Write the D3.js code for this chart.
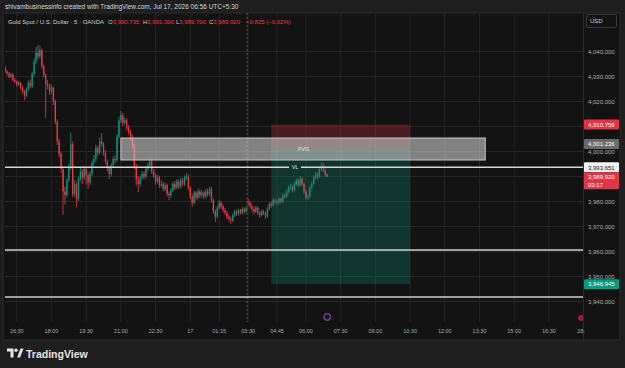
<!DOCTYPE html>
<html>
<head>
<meta charset="utf-8">
<script src="https://cdn.jsdelivr.net/npm/d3@7"></script>
<style>
  html, body { margin: 0; padding: 0; background: #1e1e1e; }
  svg { display: block; font-family: "Liberation Sans", Arial, sans-serif; }
</style>
</head>
<body>
<svg id="chart" width="625" height="368"></svg>
<script>
// XAUUSD 5m, Jul 16 16:00 -> Jul 17 06:55 (market closed 02:30-03:25)
const opens = [
  4033.5, 4032.0, 4031.2, 4030.0, 4030.8, 4028.6, 4028.0, 4026.8, 4027.4, 4025.6,
  4024.0, 4022.4, 4024.8, 4027.5, 4026.0, 4031.0, 4036.0, 4039.5, 4038.0, 4040.5,
  4034.0, 4030.5, 4027.0, 4026.5, 4024.0, 4025.5, 4020.0, 4012.0, 4004.0, 3999.0,
  3993.0, 3984.0, 3982.5, 3988.5, 3993.5, 4003.0, 3983.0, 3987.0, 3981.0, 3989.0,
  3992.0, 3989.5, 3993.0, 3990.5, 3987.5, 3991.0, 3995.5, 3997.0, 4001.5, 3999.5,
  4004.0, 4003.0, 3999.5, 3996.0, 3993.5, 3991.0, 3994.5, 3997.0, 3996.5, 4006.0,
  4012.5, 4014.5, 4011.5, 4012.5, 4009.5, 4008.0, 4006.0, 4002.5, 3994.0, 3988.5,
  3987.0, 3989.5, 3991.0, 3990.0, 3993.0, 3994.5, 3996.0, 3992.0, 3990.5, 3988.0,
  3989.5, 3986.5, 3987.0, 3985.0, 3986.5, 3983.0, 3982.5, 3984.5, 3987.0, 3985.5,
  3988.0, 3986.0, 3988.5, 3987.0, 3989.5, 3990.0, 3985.5, 3982.0, 3979.5, 3983.5,
  3981.5, 3984.0, 3982.5, 3983.5, 3982.0, 3984.0, 3983.0, 3985.0, 3980.5, 3976.0,
  3974.0, 3977.5, 3979.5, 3978.0, 3976.5, 3975.5, 3974.0, 3973.0, 3972.5, 3974.5,
  3976.0, 3975.0, 3976.5, 3975.5, 3977.0, 3976.0, 3980.0, 3979.5, 3978.0, 3977.0,
  3976.0, 3977.5, 3975.5, 3974.5, 3976.0, 3975.5, 3974.0, 3977.0, 3979.0, 3978.5,
  3980.5, 3980.0, 3979.5, 3981.0, 3980.0, 3982.5, 3982.0, 3984.0, 3985.5, 3986.0,
  3984.5, 3987.0, 3988.5, 3986.5, 3989.0, 3987.0, 3984.0, 3981.5, 3982.0, 3985.5,
  3987.0, 3989.5, 3991.0, 3990.0, 3993.0, 3994.0, 3992.5, 3990.735
];
const highs = [
  4034.2, 4032.6, 4031.8, 4031.5, 4031.2, 4029.4, 4028.5, 4028.3, 4027.9, 4026.3,
  4024.6, 4025.6, 4028.4, 4028.8, 4031.9, 4037.2, 4041.8, 4042.6, 4042.4, 4041.2,
  4034.8, 4031.4, 4028.6, 4027.2, 4026.8, 4026.0, 4020.8, 4012.8, 4005.2, 3999.8,
  3993.6, 3986.0, 3989.4, 3995.0, 4007.6, 4004.0, 3988.6, 3987.8, 3990.0, 3993.4,
  3993.0, 3994.2, 3993.8, 3991.4, 3992.2, 3996.4, 3998.6, 4002.8, 4002.4, 4005.6,
  4007.4, 4003.8, 4000.6, 3996.8, 3994.2, 3995.4, 3998.0, 3998.4, 4007.0, 4013.8,
  4016.2, 4015.4, 4013.6, 4013.2, 4010.6, 4008.8, 4006.8, 4003.2, 3995.0, 3990.2,
  3990.4, 3992.2, 3992.0, 3994.0, 3995.6, 3997.2, 3996.8, 3993.0, 3991.2, 3990.6,
  3990.2, 3988.4, 3987.8, 3987.6, 3987.2, 3984.0, 3985.4, 3988.0, 3988.2, 3989.0,
  3988.8, 3989.6, 3989.4, 3990.4, 3991.3, 3990.8, 3986.2, 3982.8, 3984.4, 3984.2,
  3985.0, 3984.8, 3984.6, 3984.2, 3985.0, 3985.2, 3986.0, 3985.8, 3981.2, 3976.8,
  3978.4, 3980.6, 3980.2, 3978.8, 3977.4, 3976.2, 3974.8, 3974.0, 3975.2, 3976.8,
  3976.6, 3977.2, 3977.0, 3977.8, 3977.6, 3978.2, 3981.0, 3980.2, 3978.8, 3977.8,
  3978.4, 3978.0, 3976.2, 3976.8, 3976.8, 3976.0, 3977.8, 3979.8, 3980.0, 3981.4,
  3981.2, 3980.8, 3981.8, 3981.6, 3983.2, 3983.4, 3984.8, 3986.4, 3987.2, 3986.6,
  3987.8, 3989.4, 3989.2, 3990.2, 3989.8, 3987.6, 3984.8, 3983.0, 3986.2, 3988.0,
  3990.4, 3992.0, 3991.8, 3993.8, 3995.5, 3995.4, 3993.4, 3991.3
];
const lows = [
  4031.4, 4030.5, 4029.4, 4029.3, 4027.9, 4027.2, 4025.9, 4026.2, 4024.8, 4023.1,
  4020.5, 4021.7, 4024.0, 4025.2, 4025.4, 4030.2, 4035.1, 4036.8, 4037.2, 4033.0,
  4029.6, 4013.5, 4024.8, 4022.6, 4022.9, 4018.6, 4010.9, 4002.6, 3997.8, 3991.5,
  3974.6, 3978.8, 3981.6, 3987.8, 3992.6, 3981.8, 3982.0, 3977.6, 3980.2, 3988.2,
  3987.0, 3988.6, 3986.8, 3985.0, 3986.6, 3990.2, 3994.4, 3996.0, 3998.2, 3998.8,
  4001.8, 3998.4, 3995.0, 3992.0, 3989.0, 3990.0, 3993.6, 3995.2, 3995.8, 4005.2,
  4011.4, 4010.2, 4010.6, 4008.4, 4006.8, 4004.6, 4001.2, 3992.8, 3986.4, 3983.8,
  3985.8, 3988.6, 3988.8, 3989.2, 3992.2, 3993.6, 3991.0, 3989.4, 3986.8, 3987.2,
  3985.4, 3985.6, 3984.0, 3984.2, 3982.0, 3980.5, 3981.6, 3983.8, 3984.6, 3984.8,
  3985.0, 3985.2, 3986.0, 3986.2, 3988.6, 3984.4, 3981.0, 3977.8, 3978.8, 3980.4,
  3980.8, 3981.4, 3981.6, 3981.0, 3981.2, 3982.0, 3982.2, 3979.4, 3975.0, 3971.8,
  3973.2, 3976.8, 3977.0, 3975.6, 3974.6, 3973.0, 3972.0, 3971.0, 3971.8, 3973.8,
  3974.2, 3974.4, 3974.8, 3974.8, 3975.2, 3975.4, 3978.6, 3977.2, 3976.0, 3975.0,
  3975.4, 3974.6, 3973.5, 3974.0, 3974.6, 3973.0, 3973.6, 3976.4, 3977.6, 3978.0,
  3979.0, 3978.4, 3978.8, 3979.2, 3979.4, 3981.0, 3981.4, 3983.2, 3984.6, 3983.6,
  3984.0, 3986.2, 3985.6, 3986.0, 3986.0, 3983.0, 3980.8, 3980.5, 3981.4, 3984.8,
  3986.4, 3988.8, 3989.0, 3989.4, 3992.2, 3991.6, 3989.8, 3989.7
];
const closes = [
  4032.0, 4031.2, 4030.0, 4030.8, 4028.6, 4028.0, 4026.8, 4027.4, 4025.6, 4024.0,
  4022.4, 4024.8, 4027.5, 4026.0, 4031.0, 4036.0, 4039.5, 4038.0, 4040.5, 4034.0,
  4030.5, 4027.0, 4026.5, 4024.0, 4025.5, 4020.0, 4012.0, 4004.0, 3999.0, 3993.0,
  3984.0, 3982.5, 3988.5, 3993.5, 4003.0, 3983.0, 3987.0, 3981.0, 3989.0, 3992.0,
  3989.5, 3993.0, 3990.5, 3987.5, 3991.0, 3995.5, 3997.0, 4001.5, 3999.5, 4004.0,
  4003.0, 3999.5, 3996.0, 3993.5, 3991.0, 3994.5, 3997.0, 3996.5, 4006.0, 4012.5,
  4014.5, 4011.5, 4012.5, 4009.5, 4008.0, 4006.0, 4002.5, 3994.0, 3988.5, 3987.0,
  3989.5, 3991.0, 3990.0, 3993.0, 3994.5, 3996.0, 3992.0, 3990.5, 3988.0, 3989.5,
  3986.5, 3987.0, 3985.0, 3986.5, 3983.0, 3982.5, 3984.5, 3987.0, 3985.5, 3988.0,
  3986.0, 3988.5, 3987.0, 3989.5, 3990.0, 3985.5, 3982.0, 3979.5, 3983.5, 3981.5,
  3984.0, 3982.5, 3983.5, 3982.0, 3984.0, 3983.0, 3985.0, 3980.5, 3976.0, 3974.0,
  3977.5, 3979.5, 3978.0, 3976.5, 3975.5, 3974.0, 3973.0, 3972.5, 3974.5, 3976.0,
  3975.0, 3976.5, 3975.5, 3977.0, 3976.0, 3977.5, 3979.5, 3978.0, 3977.0, 3976.0,
  3977.5, 3975.5, 3974.5, 3976.0, 3975.5, 3974.0, 3977.0, 3979.0, 3978.5, 3980.5,
  3980.0, 3979.5, 3981.0, 3980.0, 3982.5, 3982.0, 3984.0, 3985.5, 3986.0, 3984.5,
  3987.0, 3988.5, 3986.5, 3989.0, 3987.0, 3984.0, 3981.5, 3982.0, 3985.5, 3987.0,
  3989.5, 3991.0, 3990.0, 3993.0, 3994.0, 3992.5, 3990.7, 3989.92
];

// time axis (bar index of each label)
const timeTickLabels = ["16:30", "18:00", "19:30", "21:00", "22:30", "17", "01:15", "03:30", "04:45",
  "06:00", "07:30", "09:00", "10:30", "12:00", "13:30", "15:00", "16:30", "18:"];
const timeTickBars = [6, 24, 42, 60, 78, 96, 111, 126, 141, 156, 174, 192, 210, 228, 246, 264, 282, 300];
const priceTicks = [4040, 4030, 4020, 4010, 4000, 3990, 3980, 3970, 3960, 3950, 3940];

// drawings
const sessionBreakBar = 126;
const fvgBars = [60, 249];
const fvgPrices = [4005.4, 3996.6];
const vlPrice = 3993.651;
const levelPrices = [3960.6, 3941.8];
const positionBars = [138, 210];
const positionStop = 4010.756, positionEntry = 4001.236, positionTarget = 3946.945;
const lastPrice = 3989.92, countdown = "03:17";

const legendTitle = "Gold Spot / U.S. Dollar · 5 · OANDA";
const legendValues = [["O", "3,990.735"], ["H", "3,991.300"], ["L", "3,989.700"], ["C", "3,989.920"]];
const legendChange = "−0.825 (−0.02%)";

const upColor = "#089981", downColor = "#f23645";
const plotL = 5, plotR = 583, plotT = 13, plotB = 322;

const svg = d3.select("#chart");
const x = d3.scaleLinear().domain([0, 299.7]).range([5.2, 583]);
const y = d3.scaleLinear().domain([3940, 4040]).range([301.5, 51.5]);
const fmt = d3.format(",.3f");

// backgrounds
svg.append("rect").attr("width", 625).attr("height", 368).attr("fill", "#1e1e1e");
svg.append("rect").attr("x", 3).attr("y", 13).attr("width", 617).attr("height", 327)
  .attr("fill", "#131313").attr("stroke", "#2a2a2a").attr("stroke-width", 1);

svg.append("defs").append("clipPath").attr("id", "plotClip")
  .append("rect").attr("x", plotL).attr("y", plotT).attr("width", plotR - plotL).attr("height", plotB - plotT);

const plot = svg.append("g").attr("clip-path", "url(#plotClip)");

// grid
plot.selectAll("line.hgrid").data(priceTicks).enter().append("line")
  .attr("x1", plotL).attr("x2", plotR)
  .attr("y1", d => y(d)).attr("y2", d => y(d))
  .attr("stroke", "#262626").attr("stroke-width", 1);
plot.selectAll("line.vgrid").data(timeTickBars).enter().append("line")
  .attr("x1", d => x(d)).attr("x2", d => x(d))
  .attr("y1", plotT).attr("y2", plotB)
  .attr("stroke", "#262626").attr("stroke-width", 1);

// session break
plot.append("line")
  .attr("x1", x(sessionBreakBar) - 1).attr("x2", x(sessionBreakBar) - 1)
  .attr("y1", plotT).attr("y2", plotB)
  .attr("stroke", "#5a5a5a").attr("stroke-width", 1).attr("stroke-dasharray", "2,2");

// candles
const bars = d3.range(closes.length);
const bw = 1.3;
plot.selectAll("line.wick").data(bars).enter().append("line")
  .attr("x1", i => x(i)).attr("x2", i => x(i))
  .attr("y1", i => y(highs[i])).attr("y2", i => y(lows[i]))
  .attr("stroke", i => closes[i] >= opens[i] ? upColor : downColor)
  .attr("stroke-width", 0.8);
plot.selectAll("rect.body").data(bars).enter().append("rect")
  .attr("x", i => x(i) - bw / 2)
  .attr("width", bw)
  .attr("y", i => y(Math.max(opens[i], closes[i])))
  .attr("height", i => Math.max(0.8, Math.abs(y(opens[i]) - y(closes[i]))))
  .attr("fill", i => closes[i] >= opens[i] ? upColor : downColor);

// short position
plot.append("rect")
  .attr("x", x(positionBars[0])).attr("width", x(positionBars[1]) - x(positionBars[0]))
  .attr("y", y(positionStop)).attr("height", y(positionEntry) - y(positionStop))
  .attr("fill", "rgba(242,54,69,0.25)");
plot.append("rect")
  .attr("x", x(positionBars[0])).attr("width", x(positionBars[1]) - x(positionBars[0]))
  .attr("y", y(positionEntry)).attr("height", y(positionTarget) - y(positionEntry))
  .attr("fill", "rgba(8,153,129,0.25)");

// FVG box
plot.append("rect")
  .attr("x", x(fvgBars[0])).attr("width", x(fvgBars[1]) - x(fvgBars[0]))
  .attr("y", y(fvgPrices[0])).attr("height", y(fvgPrices[1]) - y(fvgPrices[0]))
  .attr("fill", "rgba(205,205,205,0.6)").attr("stroke", "#c8c8c8").attr("stroke-width", 1);
plot.append("text")
  .attr("x", (x(fvgBars[0]) + x(fvgBars[1])) / 2 + 0.5)
  .attr("y", (y(fvgPrices[0]) + y(fvgPrices[1])) / 2 + 2)
  .attr("text-anchor", "middle").attr("font-size", 5.5).attr("fill", "#e8e8e8")
  .text("FVG");

// VL line with label gap
const vlX = 295;
plot.append("line").attr("x1", plotL).attr("x2", vlX - 6)
  .attr("y1", y(vlPrice)).attr("y2", y(vlPrice))
  .attr("stroke", "#d6d6d6").attr("stroke-width", 1.5);
plot.append("line").attr("x1", vlX + 6).attr("x2", plotR)
  .attr("y1", y(vlPrice)).attr("y2", y(vlPrice))
  .attr("stroke", "#d6d6d6").attr("stroke-width", 1.5);
plot.append("text").attr("x", vlX).attr("y", y(vlPrice) + 2)
  .attr("text-anchor", "middle").attr("font-size", 5.5).attr("fill", "#e0e0e0").text("VL");

// horizontal levels
plot.selectAll("line.level").data(levelPrices).enter().append("line")
  .attr("x1", plotL).attr("x2", plotR)
  .attr("y1", d => y(d)).attr("y2", d => y(d))
  .attr("stroke", "#cfcfcf").attr("stroke-width", 1.5);

// little markers on the bottom of the plot
plot.append("circle").attr("cx", x(167)).attr("cy", 317).attr("r", 3.2)
  .attr("fill", "none").attr("stroke", "#6d3f8f").attr("stroke-width", 1.4);
plot.append("circle").attr("cx", 581).attr("cy", 318).attr("r", 3)
  .attr("fill", "#8a2438");

// axis separators
svg.append("line").attr("x1", plotR + 0.5).attr("x2", plotR + 0.5).attr("y1", plotT).attr("y2", 340)
  .attr("stroke", "#2a2a2a");

// price axis labels
const badges = [
  { p: positionStop, bg: "#e03546", fg: "#ffffff", dy: 0 },
  { p: positionEntry, bg: "#6a6a6a", fg: "#ffffff", dy: -4.4 },
  { p: vlPrice, bg: "#f2f2f2", fg: "#131313", dy: 0 },
  { p: positionTarget, bg: "#089981", fg: "#ffffff", dy: 0 }
];
const badgeYs = badges.map(b => y(b.p) + b.dy).concat([y(lastPrice) + 3]);
const axisG = svg.append("g");
axisG.selectAll("text.ptick")
  .data(priceTicks.filter(p => badgeYs.every(by => Math.abs(by - y(p)) > 7)))
  .enter().append("text")
  .attr("x", 588).attr("y", d => y(d) + 2.2)
  .attr("font-size", 6).attr("fill", "#b0b0b0")
  .text(d => fmt(d));

badges.forEach(b => {
  const cy = y(b.p) + b.dy;
  axisG.append("rect").attr("x", 584).attr("y", cy - 5).attr("width", 35).attr("height", 10)
    .attr("rx", 1).attr("fill", b.bg);
  axisG.append("text").attr("x", 588).attr("y", cy + 2.2)
    .attr("font-size", 6).attr("fill", b.fg).text(fmt(b.p));
});
// last price + countdown
{
  const cy = y(lastPrice);
  axisG.append("rect").attr("x", 584).attr("y", cy - 4.5).attr("width", 35).attr("height", 17)
    .attr("rx", 1).attr("fill", "#e03546");
  axisG.append("text").attr("x", 588).attr("y", cy + 2.2)
    .attr("font-size", 6).attr("fill", "#ffffff").text(fmt(lastPrice));
  axisG.append("text").attr("x", 588).attr("y", cy + 9.8)
    .attr("font-size", 6).attr("fill", "#ffffff").text(countdown);
}

// USD box
axisG.append("rect").attr("x", 586.5).attr("y", 14.5).attr("width", 30).attr("height", 13)
  .attr("fill", "none").attr("stroke", "#3a3a3a").attr("rx", 1);
axisG.append("text").attr("x", 590).attr("y", 23).attr("font-size", 6).attr("fill", "#d0d0d0").text("USD");

// time axis labels
svg.append("g").selectAll("text").data(timeTickBars).enter().append("text")
  .attr("x", (d, i) => i === timeTickBars.length - 1 ? 581 : x(d))
  .attr("y", 333)
  .attr("text-anchor", "middle").attr("font-size", 5.5).attr("fill", "#a8a8a8")
  .text((d, i) => timeTickLabels[i]);

// header
svg.append("text").attr("x", 5).attr("y", 9).attr("font-size", 6.5).attr("fill", "#d8d8d8")
  .text("shivambusinessinfo created with TradingView.com, Jul 17, 2026 06:56 UTC+5:30");

// legend
const lg = svg.append("g").attr("font-size", 6);
lg.append("text").attr("x", 8).attr("y", 23.8).attr("fill", "#d0d0d0").text(legendTitle);
const legendX = [108, 143, 176, 209];
legendValues.forEach((v, i) => {
  const t = lg.append("text").attr("x", legendX[i]).attr("y", 23.8);
  t.append("tspan").attr("fill", "#d0d0d0").text(v[0]);
  t.append("tspan").attr("fill", downColor).text(v[1]);
});
lg.append("text").attr("x", 246).attr("y", 23.8).attr("fill", downColor).text(legendChange);

// footer logo
const logo = svg.append("g").attr("fill", "#e6e6e6");
logo.append("path").attr("d", "M7,348.5 h6.5 v9 h-3 v-6 h-3.5 z");
logo.append("circle").attr("cx", 16).attr("cy", 350.2).attr("r", 1.7);
logo.append("path").attr("d", "M17.2,357.5 l3.2,-9 h3.2 l-3.6,9 z");
svg.append("text").attr("x", 26).attr("y", 357.5).attr("font-size", 10.5).attr("font-weight", "bold")
  .attr("fill", "#e6e6e6").text("TradingView");
</script>
</body>
</html>
